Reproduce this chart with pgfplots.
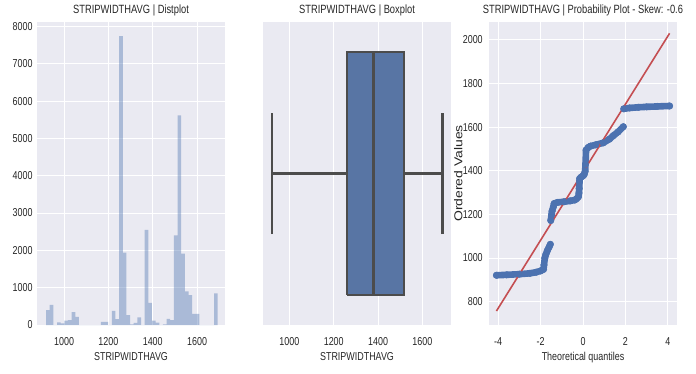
\documentclass[border=0pt]{standalone}
\usepackage{pgfplots}
\pgfplotsset{compat=1.18}
\usepackage{fontspec}
\setmainfont{Liberation Sans}[FakeStretch=0.78]
\newfontfamily\plainsans{Liberation Sans}
\definecolor{bg}{HTML}{EAEAF2}
\definecolor{sblue}{HTML}{4C72B0}
\definecolor{boxblue}{HTML}{5875A4}
\definecolor{boxgray}{HTML}{4C4C4C}
\definecolor{sred}{HTML}{C44E52}
\definecolor{txt}{HTML}{262626}
\pgfplotsset{
  sns/.style={
    scale only axis, width=188bp, height=303bp,
    axis background/.style={fill=bg},
    axis line style={draw=none},
    major tick length=0pt,
    grid=major, grid style={white, line width=1bp},
    tick label style={font=\fontsize{11.5}{12}\selectfont, text=txt},
    xticklabel style={yshift=-9bp},
    label style={font=\fontsize{11.5}{12}\selectfont, text=txt},
    title style={font=\fontsize{12}{13}\selectfont, text=txt, yshift=-4bp},
    /pgf/number format/assume math mode=true,
    /pgf/number format/1000 sep={},
    anchor=south west,
  }
}
\begin{document}
\begin{tikzpicture}[x=1bp,y=1bp]
\useasboundingbox (0,0) rectangle (696,373);
% ---------- Distplot ----------
\begin{axis}[sns, at={(37bp,48bp)},
  xmin=878, xmax=1726, ymin=0, ymax=8120,
  xtick={1000,1200,1400,1600},
  ytick={0,1000,2000,3000,4000,5000,6000,7000,8000},
  yticklabel style={xshift=-1bp},
  title={STRIPWIDTHAVG | Distplot},
  xlabel={STRIPWIDTHAVG}]
\addplot[ybar interval, fill=sblue, fill opacity=0.4, draw=none] coordinates {
(919.00,400) (935.47,540) (951.94,0) (968.41,70) (984.88,45)
(1001.35,115) (1017.82,130) (1034.29,345) (1050.76,220) (1067.23,0)
(1083.70,0) (1100.17,0) (1116.64,0) (1133.11,0) (1149.58,0)
(1166.05,85) (1182.52,85) (1198.99,0) (1215.46,380) (1231.93,155)
(1248.40,7740) (1264.87,1940) (1281.34,265) (1297.81,20) (1314.28,60)
(1330.75,205) (1347.22,0) (1363.69,2550) (1380.16,595) (1396.63,120)
(1413.10,65) (1429.57,0) (1446.04,20) (1462.51,165) (1478.98,130)
(1495.45,2400) (1511.92,5620) (1528.39,1910) (1544.86,900) (1561.33,800)
(1577.80,300) (1594.27,300) (1610.74,0) (1627.21,0) (1643.68,0)
(1660.15,0) (1676.62,850) (1693.09,0)};
\end{axis}
% ---------- Boxplot ----------
\begin{axis}[sns, at={(263bp,48bp)},
  xmin=881, xmax=1729, ymin=-0.5, ymax=0.5,
  xtick={1000,1200,1400,1600}, ytick=\empty, ymajorgrids=false,
  title={STRIPWIDTHAVG | Boxplot},
  xlabel={STRIPWIDTHAVG}]
\pgfplotsset{bx/.style={draw=boxgray, line width=2.3bp}}
\addplot[bx, fill=boxblue] coordinates {
(1259,-0.4) (1517,-0.4) (1517,0.4) (1259,0.4) (1259,-0.4)};
\addplot[bx] coordinates {(1379,-0.4) (1379,0.4)};
\addplot[bx] coordinates {(921,0) (1259,0)};
\addplot[bx] coordinates {(1517,0) (1690,0)};
\addplot[bx] coordinates {(921,-0.2) (921,0.2)};
\addplot[bx] coordinates {(1690,-0.2) (1690,0.2)};
\end{axis}
% ---------- Probability plot ----------
\begin{axis}[sns, at={(489bp,48bp)},
  xmin=-4.43, xmax=4.43, ymin=693, ymax=2082,
  xtick={-4,-2,0,2,4},
  ytick={800,1000,1200,1400,1600,1800,2000},
  yticklabel style={xshift=-2.8bp},
  title={STRIPWIDTHAVG | Probability Plot - Skew: -0.6},
  xlabel={Theoretical quantiles},
  ylabel={\plainsans\fontsize{14}{14}\selectfont\scalebox{1}[0.82]{Ordered Values}},
  every axis y label/.style={at={(axis description cs:-0.163,0.5)}, rotate=90, anchor=center, text=txt}]
\pgfplotsset{qq/.style={color=sblue, line width=6.6bp, line cap=round, line join=round,
  mark=*, mark size=3.3bp, mark options={fill=sblue, draw=sblue, line width=0.4bp}}}
\addplot[qq] coordinates {
(-4.08,921) (-3.6,923) (-3.0,926) (-2.5,930) (-2.21,935) (-2.0,941) (-1.86,948)
(-1.84,968) (-1.80,1000) (-1.75,1017) (-1.68,1034) (-1.60,1050) (-1.54,1063)};
\addplot[qq] coordinates {
(-1.52,1172) (-1.484,1198) (-1.46,1215) (-1.40,1234) (-1.36,1250)
(-1.2,1255) (-0.9,1258) (-0.6,1262) (-0.388,1266) (-0.3,1272) (-0.214,1281)
(-0.192,1297) (-0.18,1318) (-0.168,1347) (-0.16,1364) (-0.1,1370) (0.0,1377)
(0.05,1382) (0.10,1398) (0.117,1430) (0.144,1495) (0.25,1507) (0.353,1513)
(0.6,1519) (0.95,1528) (1.244,1545) (1.43,1561) (1.65,1578) (1.90,1602)};
\addplot[qq] coordinates {
(1.92,1684) (2.2,1688) (2.6,1691) (3.0,1693) (3.5,1695) (4.08,1697)};
\addplot[sred, line width=1.6bp] coordinates {(-4.08,757) (4.08,2030)};
\end{axis}
\end{tikzpicture}
\end{document}
